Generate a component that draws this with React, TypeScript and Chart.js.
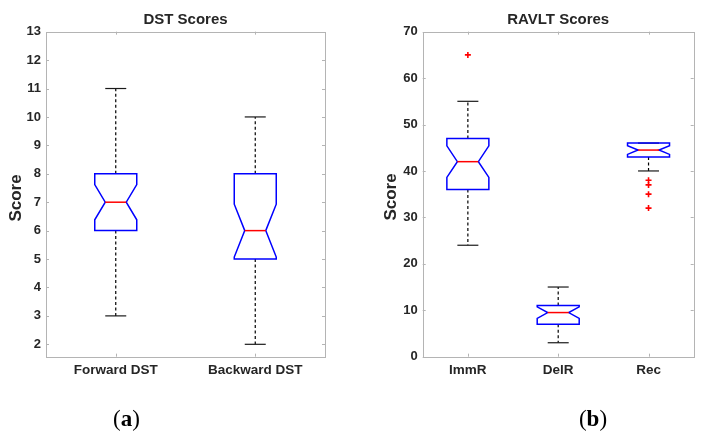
import React, { useEffect, useRef } from 'react';
import { Chart, registerables } from 'chart.js';

Chart.register(...registerables);

// ---------- DATA ----------
const dstCategories = ['Forward DST', 'Backward DST'];
const dstQ1 = [6, 5];
const dstMedian = [7, 6];
const dstQ3 = [8, 8];
const dstNotchLow = [6.38, 5.07];
const dstNotchHigh = [7.62, 6.93];
const dstWhiskerLow = [3, 2];
const dstWhiskerHigh = [11, 10];
const dstOutliers: number[][] = [[], []];
const dstYTicks = [2, 3, 4, 5, 6, 7, 8, 9, 10, 11, 12, 13];

const ravltCategories = ['ImmR', 'DelR', 'Rec'];
const ravltQ1 = [36, 7, 43];
const ravltMedian = [42, 9.5, 44.5];
const ravltQ3 = [47, 11, 46];
const ravltNotchLow = [38.6, 8.26, 43.57];
const ravltNotchHigh = [45.4, 10.74, 45.43];
const ravltWhiskerLow = [24, 3, 40];
const ravltWhiskerHigh = [55, 15, 46];
const ravltOutliers: number[][] = [[65], [], [38, 37, 35, 32]];
const ravltYTicks = [0, 10, 20, 30, 40, 50, 60, 70];

// ---------- STYLE ----------
const FONT = "'Liberation Sans', Arial, Helvetica, sans-serif";
const SERIF = "'Liberation Serif', 'Times New Roman', serif";
const TEXT = '#262626';
const AXIS = '#b4b4b4';
const BOX_HALF = 21;

type Panel = {
  categories: string[];
  q1: number[];
  median: number[];
  q3: number[];
  notchLow: number[];
  notchHigh: number[];
  whiskerLow: number[];
  whiskerHigh: number[];
  outliers: number[][];
  yTicks: number[];
  yMin: number;
  yMax: number;
  title: string;
  yLabel: string;
  caption: string;
  yAxisWidth: number;
  padRight: number;
  labelX: number;
  labelY: number;
  captionX: number;
};

const framePlugin = {
  id: 'frame',
  beforeDatasetsDraw(chart: any) {
    const { ctx, chartArea } = chart;
    const { left, right, top, bottom } = chartArea;
    const y = chart.scales.y;
    const x = chart.scales.x;
    ctx.save();
    ctx.strokeStyle = AXIS;
    ctx.lineWidth = 1;
    ctx.strokeRect(Math.round(left) + 0.5, Math.round(top) + 0.5, Math.round(right - left), Math.round(bottom - top));
    const tl = 3;
    y.ticks.forEach((t: any) => {
      const py = Math.round(y.getPixelForValue(t.value)) + 0.5;
      ctx.beginPath();
      ctx.moveTo(left, py);
      ctx.lineTo(left + tl, py);
      ctx.moveTo(right - tl, py);
      ctx.lineTo(right, py);
      ctx.stroke();
    });
    chart.data.labels.forEach((_: any, i: number) => {
      const px = Math.round(x.getPixelForValue(i)) + 0.5;
      ctx.beginPath();
      ctx.moveTo(px, top);
      ctx.lineTo(px, top + tl);
      ctx.moveTo(px, bottom - tl);
      ctx.lineTo(px, bottom);
      ctx.stroke();
    });
    ctx.restore();
  },
};

function boxPlugin(p: Panel) {
  return {
    id: 'notchedBox',
    afterDatasetsDraw(chart: any) {
      const { ctx } = chart;
      const xs = chart.scales.x;
      const ys = chart.scales.y;
      const py = (v: number) => ys.getPixelForValue(v);
      const line = (x1: number, y1: number, x2: number, y2: number) => {
        ctx.beginPath();
        ctx.moveTo(x1, y1);
        ctx.lineTo(x2, y2);
        ctx.stroke();
      };
      ctx.save();
      p.categories.forEach((_, i) => {
        const cx = xs.getPixelForValue(i);
        const w = BOX_HALF;
        const n = w / 2;
        // whiskers
        ctx.strokeStyle = '#000000';
        ctx.lineWidth = 1.2;
        ctx.setLineDash([3, 2.5]);
        if (p.whiskerHigh[i] > p.q3[i]) line(cx, py(p.q3[i]), cx, py(p.whiskerHigh[i]));
        if (p.whiskerLow[i] < p.q1[i]) line(cx, py(p.q1[i]), cx, py(p.whiskerLow[i]));
        ctx.setLineDash([]);
        ctx.strokeStyle = '#1a1a1a';
        line(cx - n, py(p.whiskerHigh[i]), cx + n, py(p.whiskerHigh[i]));
        line(cx - n, py(p.whiskerLow[i]), cx + n, py(p.whiskerLow[i]));
        // notched box
        const nl = Math.max(p.notchLow[i], p.q1[i]);
        const nh = Math.min(p.notchHigh[i], p.q3[i]);
        ctx.strokeStyle = '#0000ff';
        ctx.lineWidth = 1.5;
        ctx.lineJoin = 'miter';
        ctx.beginPath();
        ctx.moveTo(cx - w, py(p.q3[i]));
        ctx.lineTo(cx - w, py(nh));
        ctx.lineTo(cx - n, py(p.median[i]));
        ctx.lineTo(cx - w, py(nl));
        ctx.lineTo(cx - w, py(p.q1[i]));
        ctx.lineTo(cx + w, py(p.q1[i]));
        ctx.lineTo(cx + w, py(nl));
        ctx.lineTo(cx + n, py(p.median[i]));
        ctx.lineTo(cx + w, py(nh));
        ctx.lineTo(cx + w, py(p.q3[i]));
        ctx.closePath();
        ctx.stroke();
        // median
        ctx.strokeStyle = '#ff0000';
        ctx.lineWidth = 1.5;
        line(cx - n, py(p.median[i]), cx + n, py(p.median[i]));
      });
      ctx.restore();
    },
  };
}

function textPlugin(p: Panel) {
  return {
    id: 'texts',
    afterDraw(chart: any) {
      const { ctx } = chart;
      ctx.save();
      // y-axis label
      ctx.fillStyle = TEXT;
      ctx.font = `bold 17px ${FONT}`;
      ctx.textAlign = 'center';
      ctx.textBaseline = 'middle';
      ctx.translate(p.labelX, p.labelY);
      ctx.rotate(-Math.PI / 2);
      ctx.fillText(p.yLabel, 0, 0);
      ctx.restore();
      // sub caption "(a)"
      ctx.save();
      ctx.fillStyle = '#000000';
      ctx.textBaseline = 'alphabetic';
      ctx.textAlign = 'left';
      const normal = `23px ${SERIF}`;
      const bold = `bold 23px ${SERIF}`;
      ctx.font = normal;
      const wo = ctx.measureText('(').width;
      const wc = ctx.measureText(')').width;
      ctx.font = bold;
      const wl = ctx.measureText(p.caption).width;
      let x0 = p.captionX - (wo + wl + wc) / 2;
      const base = 425.5;
      ctx.font = normal;
      ctx.fillText('(', x0, base);
      x0 += wo;
      ctx.font = bold;
      ctx.fillText(p.caption, x0, base);
      x0 += wl;
      ctx.font = normal;
      ctx.fillText(')', x0, base);
      ctx.restore();
    },
  };
}

function buildConfig(p: Panel): any {
  const outlierData = p.outliers.flatMap((vals, i) => vals.map((v) => ({ x: p.categories[i], y: v })));
  return {
    type: 'line',
    data: {
      labels: p.categories,
      datasets: [
        {
          label: 'Outliers',
          data: outlierData,
          showLine: false,
          pointStyle: 'cross',
          pointRadius: 3,
          pointHoverRadius: 3,
          pointBorderWidth: 1.6,
          pointBorderColor: '#ff0000',
          pointBackgroundColor: '#ff0000',
        },
      ],
    },
    options: {
      responsive: false,
      animation: false,
      events: [],
      layout: { padding: { left: 0, right: p.padRight, top: 0, bottom: 439 - 40 - 356.67 } },
      plugins: {
        legend: { display: false },
        tooltip: { enabled: false },
        title: {
          display: true,
          text: p.title,
          color: TEXT,
          fullSize: false,
          font: { family: FONT, size: 15, weight: 'bold', lineHeight: 1.2 },
          padding: { top: 11, bottom: 2.67 },
        },
      },
      scales: {
        x: {
          type: 'category',
          offset: true,
          grid: { display: false, drawTicks: false },
          border: { display: false },
          ticks: {
            color: TEXT,
            font: { family: FONT, size: 13.5, weight: 'bold' },
            padding: 6,
            maxRotation: 0,
            autoSkip: false,
          },
          afterFit: (s: any) => {
            s.height = 40;
          },
        },
        y: {
          type: 'linear',
          min: p.yMin,
          max: p.yMax,
          grid: { display: false, drawTicks: false },
          border: { display: false },
          ticks: {
            color: TEXT,
            font: { family: FONT, size: 13, weight: 'bold' },
            padding: 5,
            callback: (v: any) => String(v),
          },
          afterBuildTicks: (s: any) => {
            s.ticks = p.yTicks.map((v) => ({ value: v }));
          },
          afterFit: (s: any) => {
            s.width = p.yAxisWidth;
          },
        },
      },
    },
    plugins: [framePlugin, boxPlugin(p), textPlugin(p)],
  };
}

const dstPanel: Panel = {
  categories: dstCategories,
  q1: dstQ1,
  median: dstMedian,
  q3: dstQ3,
  notchLow: dstNotchLow,
  notchHigh: dstNotchHigh,
  whiskerLow: dstWhiskerLow,
  whiskerHigh: dstWhiskerHigh,
  outliers: dstOutliers,
  yTicks: dstYTicks,
  yMin: 1.565,
  yMax: 13,
  title: 'DST Scores',
  yLabel: 'Score',
  caption: 'a',
  yAxisWidth: 46,
  padRight: 31,
  labelX: 16,
  labelY: 198,
  captionX: 126.5,
};

const ravltPanel: Panel = {
  categories: ravltCategories,
  q1: ravltQ1,
  median: ravltMedian,
  q3: ravltQ3,
  notchLow: ravltNotchLow,
  notchHigh: ravltNotchHigh,
  whiskerLow: ravltWhiskerLow,
  whiskerHigh: ravltWhiskerHigh,
  outliers: ravltOutliers,
  yTicks: ravltYTicks,
  yMin: 0,
  yMax: 70,
  title: 'RAVLT Scores',
  yLabel: 'Score',
  caption: 'b',
  yAxisWidth: 66.7,
  padRight: 18.3,
  labelX: 35.7,
  labelY: 197,
  captionX: 237,
};

function BoxChart({ panel, left }: { panel: Panel; left: number }) {
  const ref = useRef<HTMLCanvasElement | null>(null);
  useEffect(() => {
    if (!ref.current) return;
    const chart = new Chart(ref.current, buildConfig(panel));
    return () => chart.destroy();
  }, [panel]);
  return (
    <canvas
      ref={ref}
      width={356}
      height={439}
      style={{ position: 'absolute', left, top: 0, width: 356, height: 439 }}
    />
  );
}

export default function App() {
  return (
    <div style={{ position: 'absolute', left: 0, top: 0, width: 712, height: 439, background: '#ffffff', overflow: 'hidden' }}>
      <BoxChart panel={dstPanel} left={0} />
      <BoxChart panel={ravltPanel} left={356} />
    </div>
  );
}
